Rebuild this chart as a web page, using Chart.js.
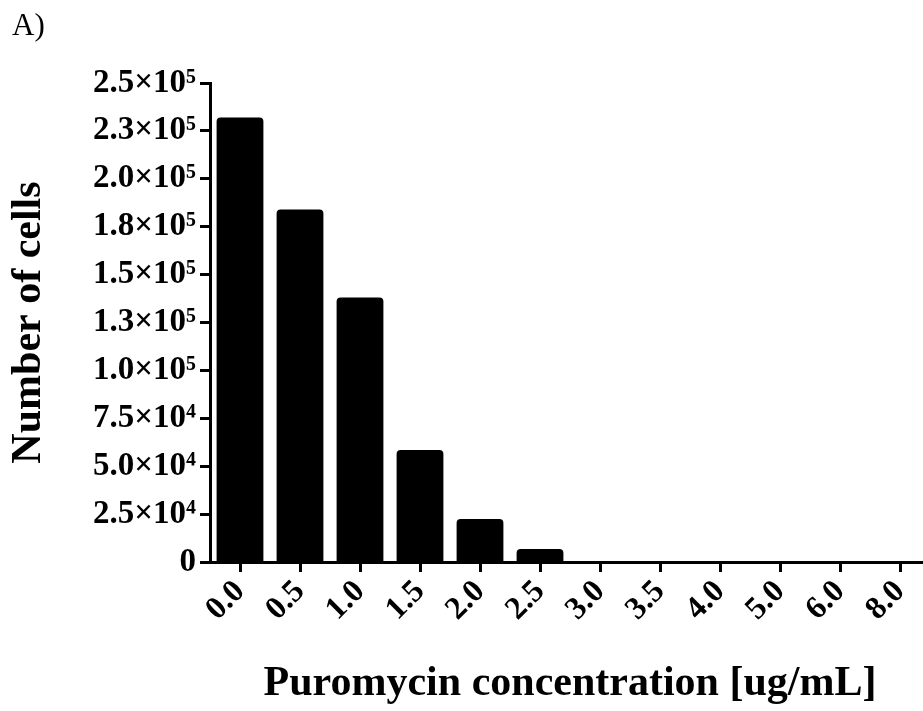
<!DOCTYPE html>
<html>
<head>
<meta charset="UTF-8">
<title>Puromycin kill curve</title>
<script src="https://cdn.jsdelivr.net/npm/chart.js"></script>
<style>
  body { margin: 0; background: #fff; overflow: hidden; }
  #wrap { position: relative; width: 923px; height: 711px; overflow: hidden; }
  #panel { position: absolute; left: 12px; top: 7px; font: 31px "Liberation Serif", serif; color: #000; }
</style>
</head>
<body>
<div id="wrap">
  <canvas id="chart" width="930" height="711"></canvas>
  <div id="panel">A)</div>
</div>
<script>
const concentrations = ['0.0', '0.5', '1.0', '1.5', '2.0', '2.5', '3.0', '3.5', '4.0', '5.0', '6.0', '8.0'];
const cellCounts = [232000, 184000, 138000, 58500, 22400, 6800, 0, 0, 0, 0, 0, 0];
const yTickLabels = ['0', '2.5×10⁴', '5.0×10⁴', '7.5×10⁴', '1.0×10⁵', '1.3×10⁵',
                     '1.5×10⁵', '1.8×10⁵', '2.0×10⁵', '2.3×10⁵', '2.5×10⁵'];

const serif = '"Liberation Serif", "Times New Roman", serif';

new Chart(document.getElementById('chart').getContext('2d'), {
  type: 'bar',
  data: {
    labels: concentrations,
    datasets: [{
      data: cellCounts,
      backgroundColor: '#000',
      borderWidth: 0,
      borderRadius: { topLeft: 4, topRight: 4, bottomLeft: 0, bottomRight: 0 },
      barPercentage: 0.78,
      categoryPercentage: 1
    }]
  },
  options: {
    responsive: false,
    animation: false,
    devicePixelRatio: 1,
    layout: { padding: { top: 83, right: 0, left: 0, bottom: 0 } },
    plugins: { legend: { display: false }, tooltip: { enabled: false } },
    scales: {
      x: {
        afterFit: s => { s.height = 149; },
        grid: { offset: false, drawOnChartArea: false, tickLength: 10, tickWidth: 3, tickColor: '#000', color: '#000' },
        border: { display: true, width: 3, color: '#000' },
        ticks: { color: '#000', autoSkip: false, maxRotation: 45, minRotation: 45, padding: 1,
                 font: { family: serif, size: 32, weight: 'bold' } },
        title: { display: true, text: 'Puromycin concentration [ug/mL]', color: '#000',
                 padding: { top: 2, bottom: 2 },
                 font: { family: serif, size: 42, weight: 'bold' } }
      },
      y: {
        min: 0,
        max: 250000,
        afterFit: s => { s.width = 210; },
        grid: { drawOnChartArea: false, tickLength: 10, tickWidth: 3, tickColor: '#000', color: '#000' },
        border: { display: true, width: 3, color: '#000' },
        ticks: { stepSize: 25000, autoSkip: false, color: '#000', padding: 4,
                 font: { family: serif, size: 33, weight: 'bold' },
                 callback: (v, i) => yTickLabels[i] },
        title: { display: true, text: 'Number of cells', color: '#000',
                 padding: { top: 4, bottom: 0 },
                 font: { family: serif, size: 42, weight: 'bold' } }
      }
    }
  }
});
</script>
</body>
</html>
